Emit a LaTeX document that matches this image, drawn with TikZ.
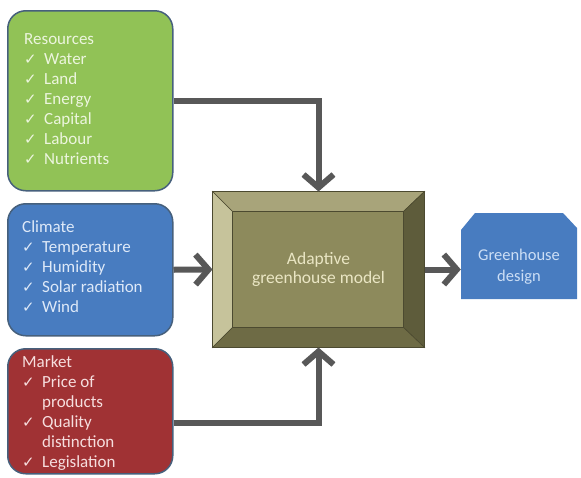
\documentclass[tikz,border=0pt]{standalone}
\usepackage{fontspec}
\setmainfont{Carlito}
\newfontfamily\symfont{DejaVu Sans}
\usetikzlibrary{arrows.meta}

\definecolor{resgreen}{RGB}{145,194,86}
\definecolor{climblue}{RGB}{72,124,192}
\definecolor{mkred}{RGB}{160,50,52}
\definecolor{boxline}{RGB}{70,96,124}
\definecolor{arrowgray}{RGB}{88,88,88}
\definecolor{oliveface}{RGB}{141,138,92}
\definecolor{olivetop}{RGB}{168,164,122}
\definecolor{oliveleft}{RGB}{198,195,155}
\definecolor{oliveright}{RGB}{94,92,59}
\definecolor{olivebottom}{RGB}{110,107,69}
\definecolor{oliveline}{RGB}{76,74,48}
\definecolor{restext}{RGB}{236,245,222}
\definecolor{climtext}{RGB}{222,233,248}
\definecolor{mktext}{RGB}{246,222,222}
\definecolor{modeltext}{RGB}{234,230,196}
\definecolor{designtext}{RGB}{204,222,245}

\newcommand{\ck}{\makebox[20pt][l]{\symfont\fontsize{15}{15}\selectfont ✓}}
\newcommand{\ind}{\hspace*{20pt}}

\tikzset{
	listbox/.style={draw=boxline, line width=1.5pt, rounded corners=18pt,
		minimum width=165pt, anchor=north west, inner sep=0pt},
	listtext/.style={anchor=north west, align=left, inner sep=0pt,
		font=\fontsize{17}{20}\selectfont},
	flow/.style={draw=arrowgray, line width=6pt,
		-{Straight Barb[length=13pt, width=30pt]}}
}

\begin{document}
\begin{tikzpicture}[x=1pt, y=-1pt]
	\useasboundingbox (0,0) rectangle (581,477);
	% input boxes
	\node[listbox, fill=resgreen, minimum height=180pt] (resources) at (7,10) {};
	\node[listbox, fill=climblue, minimum height=132pt] (climate) at (7,203) {};
	\node[listbox, fill=mkred, minimum height=125pt] (market) at (7,348) {};
	\node[listtext, text=restext] (restxt) at ([shift={(17,23)}]resources.north west)
		{Resources\\ \ck Water\\ \ck Land\\ \ck Energy\\ \ck Capital\\ \ck Labour\\ \ck Nutrients};
	\node[listtext, text=climtext] (climtxt) at ([shift={(15,17)}]climate.north west)
		{Climate\\ \ck Temperature\\ \ck Humidity\\ \ck Solar radiation\\ \ck Wind};
	\node[listtext, text=mktext] (mktxt) at ([shift={(15,7)}]market.north west)
		{Market\\ \ck Price of\\ \ind products\\ \ck Quality\\ \ind distinction\\ \ck Legislation};
	% model box with bevel
	\node[fill=oliveface, draw=oliveline, line width=1pt, minimum width=211pt,
		minimum height=155pt, align=center, text=modeltext,
		font=\fontsize{17.5}{19}\selectfont] (model) at (318.5,269.5)
		{Adaptive\\greenhouse model};
	\fill[olivetop, draw=oliveline, line width=0.6pt] (model.north west) -- (model.north east)
		-- ([shift={(-21,20)}]model.north east) -- ([shift={(20,20)}]model.north west) -- cycle;
	\fill[oliveleft, draw=oliveline, line width=0.6pt] (model.north west) -- ([shift={(20,20)}]model.north west)
		-- ([shift={(20,-20)}]model.south west) -- (model.south west) -- cycle;
	\fill[oliveright, draw=oliveline, line width=0.6pt] (model.north east) -- ([shift={(-21,20)}]model.north east)
		-- ([shift={(-21,-20)}]model.south east) -- (model.south east) -- cycle;
	\fill[olivebottom, draw=oliveline, line width=0.6pt] (model.south west) -- ([shift={(20,-20)}]model.south west)
		-- ([shift={(-21,-20)}]model.south east) -- (model.south east) -- cycle;
	\draw[oliveline, line width=1pt] (model.north west) rectangle (model.south east);
	% output box
	\fill[climblue] (461,230) -- (475,213) -- (563,213) -- (577,228) -- (577,299) -- (461,299) -- cycle;
	\node[minimum width=116pt, minimum height=86pt, align=center, text=designtext,
		font=\fontsize{16.5}{21}\selectfont] (design) at (519,267) {Greenhouse\\design};
	% arrows
	\draw[flow] (resources.east) -| (model.north);
	\draw[flow] (climate.east) -- (model.west);
	\draw[flow] ([yshift=-12pt]market.east) -| (model.south);
	\draw[flow] (model.east) -- (model.east -| design.west);
\end{tikzpicture}
\end{document}
